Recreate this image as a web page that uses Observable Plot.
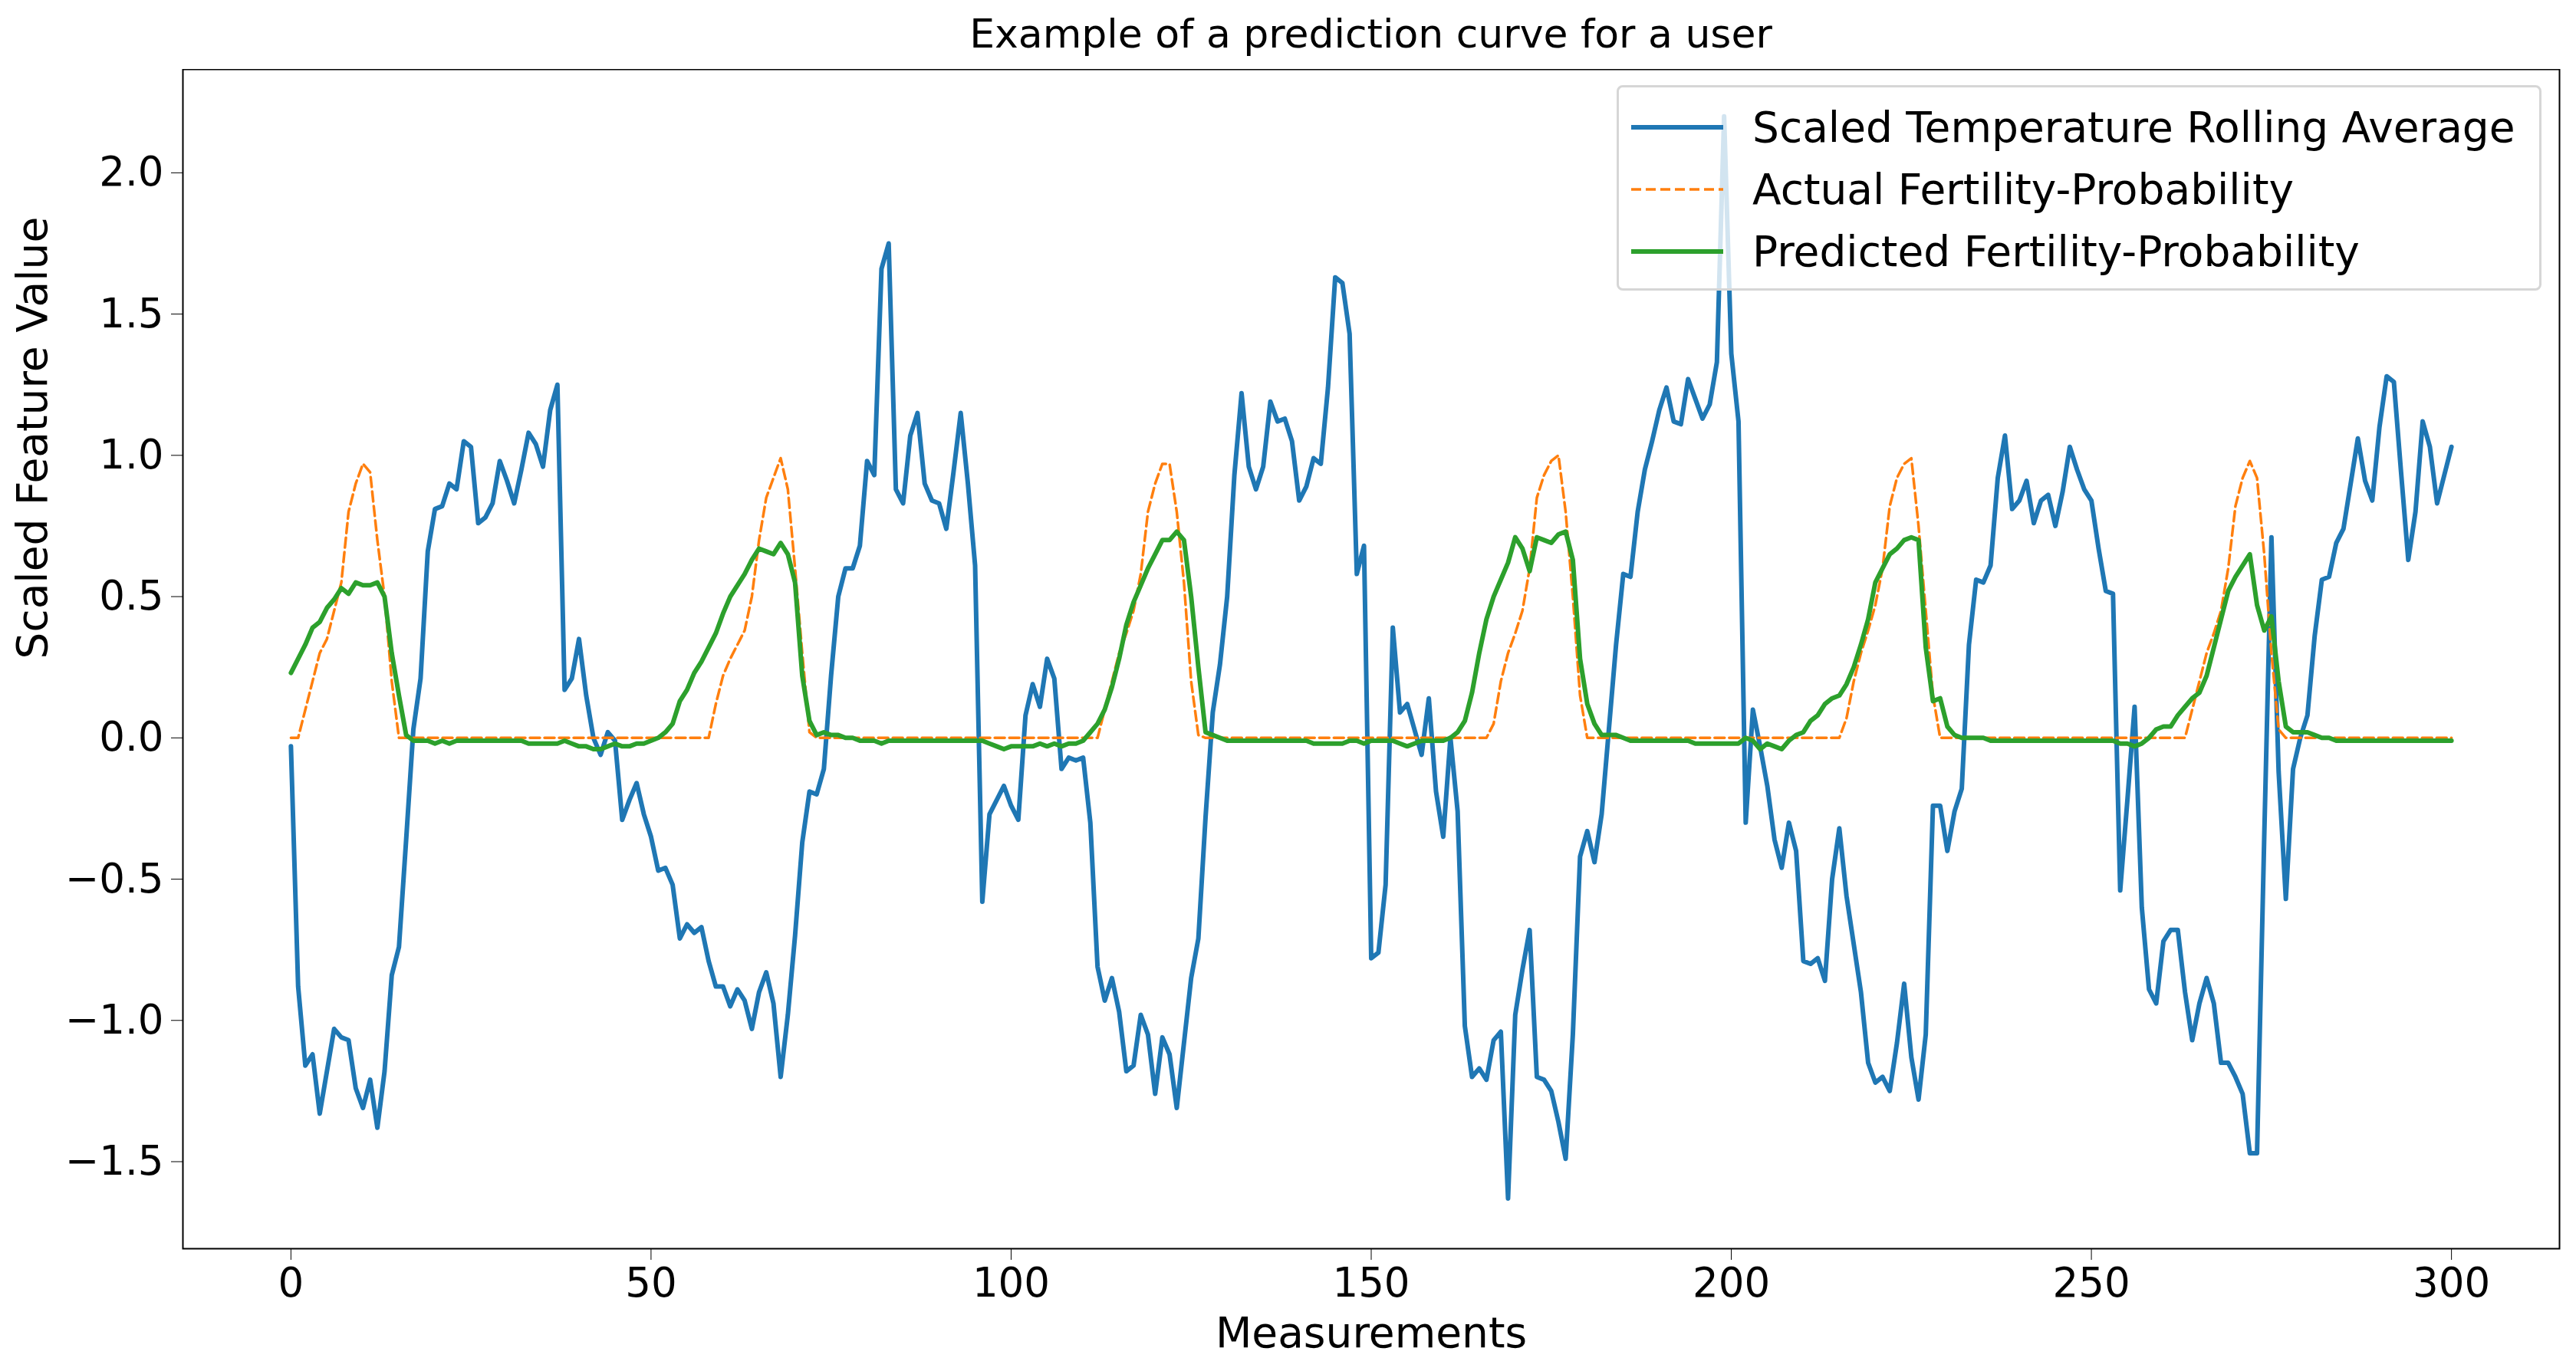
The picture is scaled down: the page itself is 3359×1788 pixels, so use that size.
<!DOCTYPE html>
<html><head><meta charset="utf-8">
<script src="https://cdn.jsdelivr.net/npm/d3@7"></script>
<script src="https://cdn.jsdelivr.net/npm/@observablehq/plot@0.6"></script>
<style>
body{margin:0;background:#fff;font-family:"DejaVu Sans",sans-serif;}
#wrap{position:relative;width:3359px;height:1788px;}
#title{position:absolute;top:14px;left:238px;width:3099px;text-align:center;font-size:52px;}
#chart{position:absolute;top:90px;left:0;}
#legend{position:absolute;left:2108px;top:111px;width:1200px;height:262px;border:3px solid #d6d6d6;border-radius:8px;background:rgba(255,255,255,0.8);font-size:55px;}
.row{position:absolute;left:0;height:60px;display:flex;align-items:center;}
.row svg{margin-left:16px;margin-right:38px;}
</style></head><body>
<div id="wrap"><div id="title">Example of a prediction curve for a user</div><div id="chart"></div><div id="legend"></div></div>
<script>
const temperature = [-0.03,-0.88,-1.16,-1.12,-1.33,-1.18,-1.03,-1.06,-1.07,-1.24,-1.31,-1.21,-1.38,-1.18,-0.84,-0.74,-0.36,0.03,0.21,0.66,
0.81,0.82,0.90,0.88,1.05,1.03,0.76,0.78,0.83,0.98,0.91,0.83,0.95,1.08,1.04,0.96,1.16,1.25,0.17,0.21,
0.35,0.15,0.00,-0.06,0.02,-0.01,-0.29,-0.22,-0.16,-0.27,-0.35,-0.47,-0.46,-0.52,-0.71,-0.66,-0.69,-0.67,-0.79,-0.88,
-0.88,-0.95,-0.89,-0.93,-1.03,-0.90,-0.83,-0.94,-1.20,-0.98,-0.70,-0.37,-0.19,-0.20,-0.11,0.22,0.50,0.60,0.60,0.68,
0.98,0.93,1.66,1.75,0.88,0.83,1.07,1.15,0.90,0.84,0.83,0.74,0.94,1.15,0.90,0.61,-0.58,-0.27,-0.22,-0.17,
-0.24,-0.29,0.08,0.19,0.11,0.28,0.21,-0.11,-0.07,-0.08,-0.07,-0.30,-0.81,-0.93,-0.85,-0.97,-1.18,-1.16,-0.98,-1.05,
-1.26,-1.06,-1.12,-1.31,-1.08,-0.85,-0.71,-0.28,0.09,0.26,0.50,0.93,1.22,0.96,0.88,0.96,1.19,1.12,1.13,1.05,
0.84,0.89,0.99,0.97,1.24,1.63,1.61,1.43,0.58,0.68,-0.78,-0.76,-0.52,0.39,0.09,0.12,0.03,-0.06,0.14,-0.19,
-0.35,0.00,-0.26,-1.02,-1.20,-1.17,-1.21,-1.07,-1.04,-1.63,-0.98,-0.82,-0.68,-1.20,-1.21,-1.25,-1.36,-1.49,-1.05,-0.42,
-0.33,-0.44,-0.27,0.03,0.33,0.58,0.57,0.80,0.95,1.05,1.16,1.24,1.12,1.11,1.27,1.20,1.13,1.18,1.33,2.20,
1.36,1.12,-0.30,0.10,-0.03,-0.17,-0.36,-0.46,-0.30,-0.40,-0.79,-0.80,-0.78,-0.86,-0.50,-0.32,-0.56,-0.73,-0.90,-1.15,
-1.22,-1.20,-1.25,-1.08,-0.87,-1.13,-1.28,-1.05,-0.24,-0.24,-0.40,-0.26,-0.18,0.33,0.56,0.55,0.61,0.92,1.07,0.81,
0.84,0.91,0.76,0.84,0.86,0.75,0.87,1.03,0.95,0.88,0.84,0.67,0.52,0.51,-0.54,-0.22,0.11,-0.60,-0.89,-0.94,
-0.72,-0.68,-0.68,-0.90,-1.07,-0.94,-0.85,-0.94,-1.15,-1.15,-1.20,-1.26,-1.47,-1.47,-0.35,0.71,-0.12,-0.57,-0.11,0.00,
0.08,0.36,0.56,0.57,0.69,0.74,0.90,1.06,0.91,0.84,1.10,1.28,1.26,0.94,0.63,0.80,1.12,1.03,0.83,0.93,1.03];

// Actual fertility probability: nonzero windows (start index, values); zero elsewhere
const actualStarts = [2, 59, 113, 167, 216, 264];
const actualWindows = [
 [0.10,0.20,0.30,0.35,0.45,0.55,0.80,0.90,0.97,0.94,0.70,0.50,0.20],
 [0.12,0.22,0.28,0.33,0.38,0.50,0.70,0.85,0.92,0.99,0.88,0.60,0.30,0.02],
 [0.10,0.20,0.30,0.37,0.45,0.58,0.80,0.90,0.97,0.97,0.80,0.55,0.20,0.01],
 [0.05,0.20,0.30,0.37,0.45,0.60,0.85,0.93,0.98,1.00,0.80,0.50,0.15],
 [0.07,0.20,0.30,0.38,0.47,0.60,0.82,0.92,0.97,0.99,0.75,0.45,0.15],
 [0.10,0.20,0.30,0.37,0.45,0.60,0.82,0.92,0.98,0.92,0.65,0.30,0.03]];

const predicted = [0.23,0.28,0.33,0.39,0.41,0.46,0.49,0.53,0.51,0.55,0.54,0.54,0.55,0.50,0.30,0.15,0.01,-0.01,-0.01,-0.01,
-0.02,-0.01,-0.02,-0.01,-0.01,-0.01,-0.01,-0.01,-0.01,-0.01,-0.01,-0.01,-0.01,-0.02,-0.02,-0.02,-0.02,-0.02,-0.01,-0.02,
-0.03,-0.03,-0.04,-0.04,-0.03,-0.02,-0.03,-0.03,-0.02,-0.02,-0.01,0.00,0.02,0.05,0.13,0.17,0.23,0.27,0.32,0.37,
0.44,0.50,0.54,0.58,0.63,0.67,0.66,0.65,0.69,0.65,0.55,0.22,0.06,0.01,0.02,0.01,0.01,0.00,0.00,-0.01,
-0.01,-0.01,-0.02,-0.01,-0.01,-0.01,-0.01,-0.01,-0.01,-0.01,-0.01,-0.01,-0.01,-0.01,-0.01,-0.01,-0.01,-0.02,-0.03,-0.04,
-0.03,-0.03,-0.03,-0.03,-0.02,-0.03,-0.02,-0.03,-0.02,-0.02,-0.01,0.02,0.05,0.10,0.18,0.28,0.40,0.48,0.54,0.60,
0.65,0.70,0.70,0.73,0.70,0.50,0.25,0.02,0.01,0.00,-0.01,-0.01,-0.01,-0.01,-0.01,-0.01,-0.01,-0.01,-0.01,-0.01,
-0.01,-0.01,-0.02,-0.02,-0.02,-0.02,-0.02,-0.01,-0.01,-0.02,-0.01,-0.01,-0.01,-0.01,-0.02,-0.03,-0.02,-0.01,-0.01,-0.01,
-0.01,0.00,0.02,0.06,0.16,0.30,0.42,0.50,0.56,0.62,0.71,0.67,0.59,0.71,0.70,0.69,0.72,0.73,0.63,0.28,
0.12,0.05,0.01,0.01,0.01,0.00,-0.01,-0.01,-0.01,-0.01,-0.01,-0.01,-0.01,-0.01,-0.01,-0.02,-0.02,-0.02,-0.02,-0.02,
-0.02,-0.02,0.00,-0.01,-0.04,-0.02,-0.03,-0.04,-0.01,0.01,0.02,0.06,0.08,0.12,0.14,0.15,0.19,0.25,0.33,0.42,
0.55,0.60,0.65,0.67,0.70,0.71,0.70,0.32,0.13,0.14,0.04,0.01,0.00,0.00,0.00,0.00,-0.01,-0.01,-0.01,-0.01,
-0.01,-0.01,-0.01,-0.01,-0.01,-0.01,-0.01,-0.01,-0.01,-0.01,-0.01,-0.01,-0.01,-0.01,-0.02,-0.02,-0.03,-0.02,0.00,0.03,
0.04,0.04,0.08,0.11,0.14,0.16,0.22,0.32,0.42,0.52,0.57,0.61,0.65,0.47,0.38,0.43,0.20,0.04,0.02,0.02,
0.02,0.01,0.00,0.00,-0.01,-0.01,-0.01,-0.01,-0.01,-0.01,-0.01,-0.01,-0.01,-0.01,-0.01,-0.01,-0.01,-0.01,-0.01,-0.01,-0.01];

const actual = temperature.map(() => 0);
actualStarts.forEach((s, k) => actualWindows[k].forEach((v, j) => { actual[s + j] = v; }));

const seriesNames = ["Scaled Temperature Rolling Average", "Actual Fertility-Probability", "Predicted Fertility-Probability"];
const colors = ["#1f77b4", "#ff7f0e", "#2ca02c"];
const xTicks = [0, 50, 100, 150, 200, 250, 300];
const yTicks = [-1.5, -1.0, -0.5, 0.0, 0.5, 1.0, 1.5, 2.0];

const rows = (arr) => arr.map((v, i) => ({x: i, y: v}));

const chart = Plot.plot({
  width: 3359, height: 1698,
  marginLeft: 238, marginRight: 22, marginTop: 0, marginBottom: 160,
  style: {fontFamily: "DejaVu Sans, sans-serif", fontSize: "53px", color: "#000", background: "transparent"},
  x: {domain: [-15, 315], label: null},
  y: {domain: [-1.808, 2.366], label: null},
  marks: [
    Plot.frame({stroke: "#000", strokeWidth: 2}),
    Plot.line(rows(temperature), {x: "x", y: "y", stroke: colors[0], strokeWidth: 6}),
    Plot.line(rows(actual), {x: "x", y: "y", stroke: colors[1], strokeWidth: 3.5, strokeDasharray: "13,6"}),
    Plot.line(rows(predicted), {x: "x", y: "y", stroke: colors[2], strokeWidth: 6}),
    Plot.axisX({ticks: xTicks, tickSize: 15, tickPadding: 10, label: null, fontSize: 53}),
    Plot.axisY({ticks: yTicks, tickSize: 15, tickPadding: 10, tickFormat: d => (d < 0 ? "\u2212" : "") + Math.abs(d).toFixed(1), label: null, fontSize: 53}),
    Plot.text(["Measurements"], {frameAnchor: "bottom", dy: 128, fontSize: 55}),
    Plot.text(["Scaled Feature Value"], {frameAnchor: "left", dx: -195, rotate: -90, fontSize: 55})
  ]
});
document.getElementById("chart").appendChild(chart);

const leg = document.getElementById("legend");
seriesNames.forEach((n, i) => {
  const r = document.createElement("div");
  r.className = "row";
  r.style.top = (22 + i * 81) + "px";
  r.innerHTML = `<svg width="120" height="20"><line x1="0" y1="10" x2="120" y2="10" stroke="${colors[i]}" stroke-width="${i===1?3.5:6}" ${i===1?'stroke-dasharray="13,6"':''}/></svg><span>${n}</span>`;
  leg.appendChild(r);
});
</script></body></html>
